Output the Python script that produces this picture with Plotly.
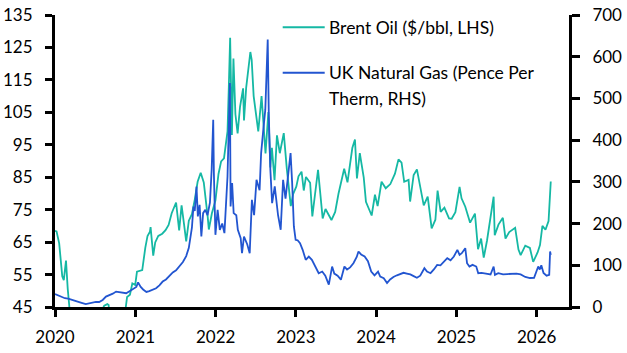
import plotly.graph_objects as go

brent_dates = [
    "2020-01-01","2020-01-08","2020-01-20","2020-01-27","2020-02-03","2020-02-10","2020-02-20","2020-02-28",
    "2020-03-06","2020-03-09","2020-03-20","2020-04-01","2020-04-21","2020-05-01","2020-05-15","2020-06-01",
    "2020-06-15","2020-07-01","2020-07-15","2020-08-03","2020-08-12","2020-08-26","2020-09-01","2020-09-08",
    "2020-09-21","2020-10-01","2020-10-15","2020-11-02","2020-11-16","2020-11-24","2020-12-07","2020-12-18",
    "2020-12-31","2021-01-08","2021-01-20","2021-02-01","2021-02-15","2021-02-25","2021-03-08","2021-03-11",
    "2021-03-23","2021-04-01","2021-04-15","2021-05-03","2021-05-18","2021-06-01","2021-06-15","2021-07-05",
    "2021-07-19","2021-07-30","2021-08-10","2021-08-20","2021-09-01","2021-09-15","2021-09-28","2021-10-11",
    "2021-10-25","2021-11-08","2021-11-26","2021-12-01","2021-12-15","2021-12-31","2022-01-14","2022-01-26",
    "2022-02-08","2022-02-24","2022-03-02","2022-03-08","2022-03-16","2022-03-23","2022-04-01","2022-04-11",
    "2022-04-22","2022-05-06","2022-05-10","2022-05-20","2022-06-08","2022-06-14","2022-06-23","2022-07-05",
    "2022-07-14","2022-07-29","2022-08-16","2022-08-29","2022-09-07","2022-09-14","2022-09-26","2022-10-07",
    "2022-10-20","2022-11-07","2022-11-21","2022-12-09","2022-12-20","2023-01-03","2023-01-13","2023-01-27",
    "2023-02-06","2023-02-16","2023-03-07","2023-03-17","2023-03-31","2023-04-12","2023-05-03","2023-05-16",
    "2023-06-12","2023-06-29","2023-07-14","2023-08-09","2023-08-24","2023-09-15","2023-09-27","2023-10-06",
    "2023-10-19","2023-11-06","2023-11-16","2023-12-12","2023-12-27","2024-01-08","2024-01-26","2024-02-14",
    "2024-03-06","2024-03-27","2024-04-12","2024-04-26","2024-05-08","2024-05-28","2024-06-04","2024-06-20",
    "2024-07-05","2024-07-23","2024-08-05","2024-08-23","2024-09-10","2024-09-27","2024-10-07","2024-10-21",
    "2024-11-07","2024-11-28","2024-12-10","2024-12-27","2025-01-15","2025-01-24","2025-02-10","2025-03-04",
    "2025-03-26","2025-04-09","2025-04-23","2025-05-05","2025-05-20","2025-06-19","2025-06-24","2025-07-11",
    "2025-07-31","2025-08-12","2025-08-29","2025-09-25","2025-10-10","2025-10-20","2025-11-10","2025-12-01",
    "2025-12-16","2026-01-05","2026-01-16","2026-01-27","2026-02-10","2026-02-24","2026-03-02","2026-03-06",
]
brent_values = [
    68.5, 68.3, 64.6, 59.3, 54.5, 53.3, 59.3, 50.5,
    45.3, 34.4, 27.0, 24.7, 19.3, 26.4, 32.5, 38.3,
    39.7, 42.0, 43.8, 44.2, 45.4, 45.9, 45.6, 39.8,
    41.4, 40.9, 43.2, 38.9, 43.8, 48.1, 48.8, 52.3,
    51.8, 55.9, 56.1, 56.4, 63.3, 66.9, 68.2, 69.6,
    60.8, 64.9, 66.9, 67.6, 68.7, 70.3, 73.9, 77.2,
    68.6, 76.3, 70.6, 65.2, 71.6, 73.6, 78.1, 83.6,
    86.4, 83.4, 72.7, 68.9, 73.9, 77.8, 86.0, 89.9,
    90.8, 99.1, 112.9, 128.0, 98.0, 121.6, 104.4, 98.5,
    106.7, 112.4, 102.5, 112.6, 123.6, 121.2, 110.0, 102.8,
    99.1, 110.0, 92.3, 105.1, 88.0, 94.1, 84.1, 97.9,
    92.4, 98.6, 87.5, 76.1, 79.9, 82.1, 85.3, 86.7,
    80.9, 85.1, 83.3, 72.9, 79.8, 87.3, 72.3, 75.2,
    71.8, 74.3, 79.9, 87.6, 83.4, 94.0, 96.6, 84.6,
    92.4, 84.9, 77.4, 73.2, 79.6, 76.1, 83.6, 81.6,
    82.9, 86.1, 90.5, 89.5, 83.6, 84.2, 77.5, 85.7,
    87.4, 81.0, 76.3, 79.0, 69.2, 71.9, 80.9, 74.3,
    75.6, 72.3, 72.2, 74.2, 82.0, 78.5, 75.9, 71.0,
    73.8, 62.8, 66.1, 60.2, 65.5, 79.0, 67.1, 70.4,
    72.5, 66.1, 68.1, 69.4, 62.7, 61.0, 63.9, 63.2,
    58.9, 61.8, 64.1, 70.0, 68.8, 71.5, 77.7, 83.7,
]

gas_dates = [
    "2020-01-01","2020-01-15","2020-02-01","2020-02-15","2020-03-01","2020-03-15","2020-04-01","2020-04-15",
    "2020-05-01","2020-05-20","2020-06-05","2020-06-20","2020-07-05","2020-07-20","2020-08-05","2020-08-20",
    "2020-09-05","2020-09-20","2020-10-05","2020-10-20","2020-11-05","2020-11-20","2020-12-05","2020-12-20",
    "2021-01-05","2021-01-13","2021-01-25","2021-02-05","2021-02-20","2021-03-05","2021-03-20","2021-04-05",
    "2021-04-20","2021-05-05","2021-05-20","2021-06-05","2021-06-20","2021-07-05","2021-07-20","2021-08-05",
    "2021-08-20","2021-09-01","2021-09-15","2021-09-22","2021-09-28","2021-10-06","2021-10-12","2021-10-20",
    "2021-10-28","2021-11-05","2021-11-15","2021-11-25","2021-12-06","2021-12-14","2021-12-21","2021-12-24",
    "2021-12-31","2022-01-10","2022-01-20","2022-01-31","2022-02-10","2022-02-24","2022-03-07","2022-03-10",
    "2022-03-17","2022-03-24","2022-04-05","2022-04-12","2022-04-25","2022-05-01","2022-05-10","2022-05-25",
    "2022-06-05","2022-06-15","2022-06-25","2022-07-06","2022-07-20","2022-07-27","2022-08-05","2022-08-15",
    "2022-08-26","2022-08-31","2022-09-07","2022-09-15","2022-09-27","2022-10-05","2022-10-12","2022-10-24",
    "2022-11-04","2022-11-15","2022-11-28","2022-12-08","2022-12-15","2022-12-23","2022-12-31","2023-01-09",
    "2023-01-20","2023-02-01","2023-02-15","2023-03-01","2023-03-15","2023-04-01","2023-04-15","2023-05-01",
    "2023-05-15","2023-05-31","2023-06-15","2023-06-25","2023-07-10","2023-07-25","2023-08-10","2023-08-22",
    "2023-09-05","2023-09-20","2023-10-05","2023-10-13","2023-10-25","2023-11-10","2023-11-25","2023-12-10",
    "2023-12-25","2024-01-10","2024-01-20","2024-02-05","2024-02-20","2024-03-05","2024-03-20","2024-04-05",
    "2024-04-20","2024-05-05","2024-05-20","2024-06-05","2024-06-20","2024-07-05","2024-07-20","2024-08-08",
    "2024-08-20","2024-09-05","2024-09-20","2024-10-05","2024-10-20","2024-11-05","2024-11-20","2024-12-05",
    "2024-12-20","2025-01-05","2025-01-15","2025-01-25","2025-02-10","2025-02-18","2025-03-01","2025-03-15",
    "2025-04-01","2025-04-10","2025-04-25","2025-05-15","2025-06-05","2025-06-19","2025-06-25","2025-07-10",
    "2025-08-01","2025-08-20","2025-09-10","2025-10-01","2025-10-20","2025-11-10","2025-12-01","2025-12-20",
    "2026-01-08","2026-01-15","2026-01-22","2026-02-01","2026-02-15","2026-02-27","2026-03-03","2026-03-06",
]
gas_values = [
    31, 28, 24, 21, 20, 18, 16, 13,
    10, 7, 9, 11, 12, 12, 17, 25,
    28, 32, 37, 36, 34, 33, 38, 42,
    48, 59, 48, 42, 36, 38, 41, 45,
    52, 61, 66, 75, 83, 88, 97, 108,
    122, 142, 190, 241, 230, 289, 217, 245,
    169, 225, 233, 220, 250, 330, 449, 321,
    173, 233, 185, 200, 177, 313, 537, 241,
    297, 225, 220, 185, 165, 129, 169, 150,
    129, 257, 220, 305, 280, 369, 420, 473,
    641, 457, 329, 249, 289, 250, 220, 185,
    305, 260, 330, 369, 300, 193, 161, 160,
    153, 137, 113, 121, 113, 97, 81, 85,
    75, 53.5, 97, 80, 75, 65.5, 97, 90,
    95, 105, 120, 133, 126, 121, 110, 85,
    76, 85, 73, 69, 57.5, 66, 72, 76,
    80, 82, 80, 78, 74, 70, 75, 93,
    85, 81, 90, 101, 100, 108, 117, 112,
    121, 137, 125, 129, 141, 105, 97, 101,
    97, 81, 82, 80, 78, 97, 77, 81,
    78, 79, 80, 80, 78, 72, 69.5, 70,
    97, 90, 100, 81.5, 75, 77, 133, 125,
]

left_ticks = [45, 55, 65, 75, 85, 95, 105, 115, 125, 135]
right_ticks = [0, 100, 200, 300, 400, 500, 600, 700]
year_ticks = ["2020-01-01","2021-01-01","2022-01-01","2023-01-01","2024-01-01","2025-01-01","2026-01-01"]
year_labels = ["2020","2021","2022","2023","2024","2025","2026"]

TEAL = "#15b8a4"
BLUE = "#2255d0"
FONT = "Lato"

fig = go.Figure()
fig.add_trace(go.Scatter(x=brent_dates, y=brent_values, mode="lines",
                         line=dict(color=TEAL, width=1.8), name="Brent Oil ($/bbl, LHS)",
                         showlegend=False, yaxis="y"))
fig.add_trace(go.Scatter(x=gas_dates, y=gas_values, mode="lines",
                         line=dict(color=BLUE, width=1.8), name="UK Natural Gas (Pence Per Therm, RHS)",
                         showlegend=False, yaxis="y2"))

axis_common = dict(showgrid=False, zeroline=False, showline=True, linecolor="black", linewidth=3,
                   ticks="outside", tickcolor="black", tickwidth=3, automargin=False,
                   tickfont=dict(family=FONT, size=17, color="black"))

fig.update_layout(
    width=627, height=353,
    margin=dict(l=55, r=58, t=15, b=46),
    paper_bgcolor="white", plot_bgcolor="white",
    showlegend=False,
    xaxis=dict(range=["2020-01-01", "2026-05-28"], tickvals=year_ticks, ticktext=year_labels,
               ticklen=7, ticklabelstandoff=6, **axis_common),
    yaxis=dict(range=[45, 135], tickvals=left_ticks, ticklen=7, ticklabelstandoff=9, **axis_common),
    yaxis2=dict(range=[0, 700], tickvals=right_ticks, overlaying="y", side="right", ticklen=8,
                ticklabelstandoff=9, **axis_common),
)

# legend drawn as lines + labels in paper coordinates
def px_to_paper_x(px):
    return (px - 55.3) / 514.0

def py_to_paper_y(py):
    return 1 - (py - 15.3) / 292.0

legend_items = [
    (TEAL, 27.5, ["Brent Oil ($/bbl, LHS)"]),
    (BLUE, 73.0, ["UK Natural Gas (Pence Per", "Therm, RHS)"]),
]
for color, ly, lines in legend_items:
    fig.add_shape(type="line", xref="paper", yref="paper",
                  x0=px_to_paper_x(283), x1=px_to_paper_x(325),
                  y0=py_to_paper_y(ly), y1=py_to_paper_y(ly),
                  line=dict(color=color, width=2))
    for i, txt in enumerate(lines):
        fig.add_annotation(xref="paper", yref="paper", x=px_to_paper_x(327),
                           y=py_to_paper_y(ly + i * 26), text=txt, showarrow=False,
                           xanchor="left", yanchor="middle",
                           font=dict(family=FONT, size=17.5, color="black"))

fig.write_html("out.html")
